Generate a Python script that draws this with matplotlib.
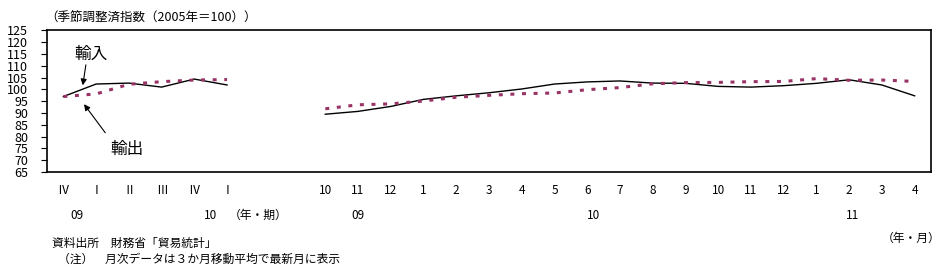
import matplotlib
matplotlib.use('Agg')
import matplotlib.pyplot as plt
import numpy as np

plt.rcParams['font.family'] = ['Noto Sans CJK JP', 'DejaVu Sans']

# 四半期データ（09年Ⅳ期～10年Ⅰ期）
q_labels = ['Ⅳ', 'Ⅰ', 'Ⅱ', 'Ⅲ', 'Ⅳ', 'Ⅰ']
q_import = [97.0, 102.3, 102.7, 101.0, 104.4, 101.9]
q_export = [97.0, 98.1, 102.2, 103.3, 104.0, 104.2]

# 月次データ（09年10月～11年4月）
m_labels = ['10', '11', '12', '1', '2', '3', '4', '5', '6', '7', '8', '9',
            '10', '11', '12', '1', '2', '3', '4']
m_import = [89.5, 90.7, 92.8, 95.8, 97.3, 98.6, 100.2, 102.3, 103.2, 103.6,
            102.7, 102.6, 101.3, 101.0, 101.6, 102.6, 104.1, 101.9, 97.3]
m_export = [91.8, 93.5, 93.9, 95.1, 96.7, 97.5, 98.2, 98.5, 99.9, 100.8,
            102.4, 102.9, 103.0, 103.3, 103.4, 104.6, 103.9, 104.0, 103.4]

q_x = np.arange(len(q_labels))
m_x = np.arange(len(m_labels)) + 8

fig = plt.figure(figsize=(9.5, 2.75), dpi=100)
ax = fig.add_axes([47 / 950, (275 - 172) / 275, (931 - 47) / 950, (172 - 30.5) / 275])

col_exp = '#993366'
dash = (0, (1.3, 2.5))
ax.plot(q_x, q_import, color='black', lw=1)
ax.plot(m_x, m_import, color='black', lw=1)
ax.plot(q_x, q_export, color=col_exp, lw=2.2, linestyle=dash, dash_capstyle='butt')
ax.plot(m_x, m_export, color=col_exp, lw=2.2, linestyle=dash, dash_capstyle='butt')

ax.set_xlim(-0.5, 26.5)
ax.set_ylim(65, 125)
ax.set_yticks(np.arange(65, 126, 5))
ax.tick_params(axis='y', direction='out', length=4.5, width=0.8, labelsize=9, pad=9)
ax.set_xticks(list(q_x) + list(m_x))
ax.set_xticklabels(q_labels + m_labels)
ax.tick_params(axis='x', length=0, labelsize=8.5, pad=9)
for s in ax.spines.values():
    s.set_linewidth(1.2)

# 年ラベル
tr = ax.get_xaxis_transform()
for xx, lab in [(0.4, '09'), (4.5, '10'), (9, '09'), (16.2, '10'), (24.1, '11')]:
    ax.text(xx, -0.305, lab, transform=tr, ha='center', va='center', fontsize=8.5)
ax.text(5.95, -0.305, '（年・期）', transform=tr, ha='center', va='center', fontsize=8.5)

# 矢印注記
ax.annotate('', xy=(0.58, 100.6), xytext=(0.70, 111.6),
            arrowprops=dict(arrowstyle='-|>', color='black', lw=0.8, mutation_scale=9))
ax.text(0.85, 114.8, '輸入', ha='center', va='center', fontsize=12)
ax.annotate('', xy=(0.58, 94.7), xytext=(1.33, 80.7),
            arrowprops=dict(arrowstyle='-|>', color='black', lw=0.8, mutation_scale=9))
ax.text(1.95, 74.6, '輸出', ha='center', va='center', fontsize=12)

fig.text(45 / 950, 1 - 18 / 275, '（季節調整済指数（2005年＝100））', ha='left', va='center', fontsize=9)
fig.text(940 / 950, 1 - 238 / 275, '（年・月）', ha='right', va='center', fontsize=8.5)
fig.text(52 / 950, 1 - 243 / 275, '資料出所　財務省「貿易統計」', ha='left', va='center', fontsize=8.5)
fig.text(58 / 950, 1 - 259 / 275, '（注）　月次データは３か月移動平均で最新月に表示', ha='left', va='center', fontsize=8.5)

fig.savefig('out.png', dpi=100)
